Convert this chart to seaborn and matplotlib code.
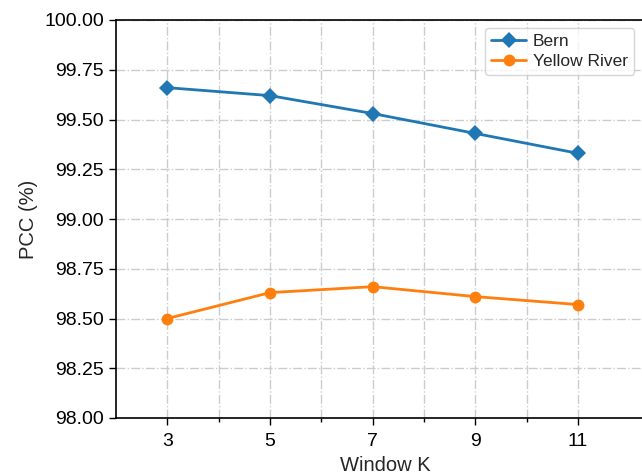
import matplotlib
matplotlib.use("Agg")
import matplotlib.pyplot as plt
import seaborn as sns
import pandas as pd

window_k = [3, 5, 7, 9, 11]
bern = [99.66, 99.62, 99.53, 99.43, 99.33]
yellow_river = [98.50, 98.63, 98.66, 98.61, 98.57]
series_names = ["Bern", "Yellow River"]
x_major = [3, 5, 7, 9, 11]
x_minor = [4, 6, 8, 10]
y_ticks = [98.00, 98.25, 98.50, 98.75, 99.00, 99.25, 99.50, 99.75, 100.00]

sns.set_theme(style="ticks")
plt.rcParams['font.family'] = ['Liberation Sans', 'DejaVu Sans']

df = pd.concat([
    pd.DataFrame({"K": window_k, "PCC": bern, "Dataset": series_names[0]}),
    pd.DataFrame({"K": window_k, "PCC": yellow_river, "Dataset": series_names[1]}),
])

fig = plt.figure(figsize=(6.42, 4.76), dpi=100)
ax = fig.add_axes([116/642, 58/476, 655/642 - 116/642, 398/476])

sns.lineplot(data=df, x="K", y="PCC", hue="Dataset", style="Dataset",
             markers={"Bern": "D", "Yellow River": "o"}, dashes=False,
             palette=["#1f77b4", "#ff7f0e"], linewidth=2, markersize=8.5,
             markeredgewidth=0, ax=ax)

ax.set_xlim(2, 12.5)
ax.set_ylim(98.0, 100.0)
ax.set_xticks(x_major)
ax.set_xticks(x_minor, minor=True)
ax.set_yticks(y_ticks)
ax.yaxis.set_major_formatter(matplotlib.ticker.FormatStrFormatter('%.2f'))

ax.grid(True, which='both', axis='x', linestyle='-.', color='#cccccc', linewidth=1)
ax.grid(True, which='major', axis='y', linestyle='-.', color='#cccccc', linewidth=1)
ax.set_axisbelow(True)

ax.tick_params(axis='both', which='major', labelsize=14, direction='out', length=5, width=1, colors='black')
ax.tick_params(axis='x', which='major', pad=6)
ax.tick_params(axis='x', which='minor', direction='out', length=3, width=1, colors='black')
for s in ax.spines.values():
    s.set_color('black')
    s.set_linewidth(1.2)

ax.set_xlabel("Window K", fontsize=14.5, labelpad=4)
ax.set_ylabel("PCC (%)", fontsize=14.5, labelpad=5)

leg = ax.legend(loc='upper right', fontsize=12.5, frameon=True, borderaxespad=0,
                handlelength=2.0, borderpad=0.35, labelspacing=0.25, handletextpad=0.4)
leg.set_title(None)
leg.set_bbox_to_anchor((634/642, 1 - 28/476), transform=fig.transFigure)

fig.savefig("out.png", dpi=100)
